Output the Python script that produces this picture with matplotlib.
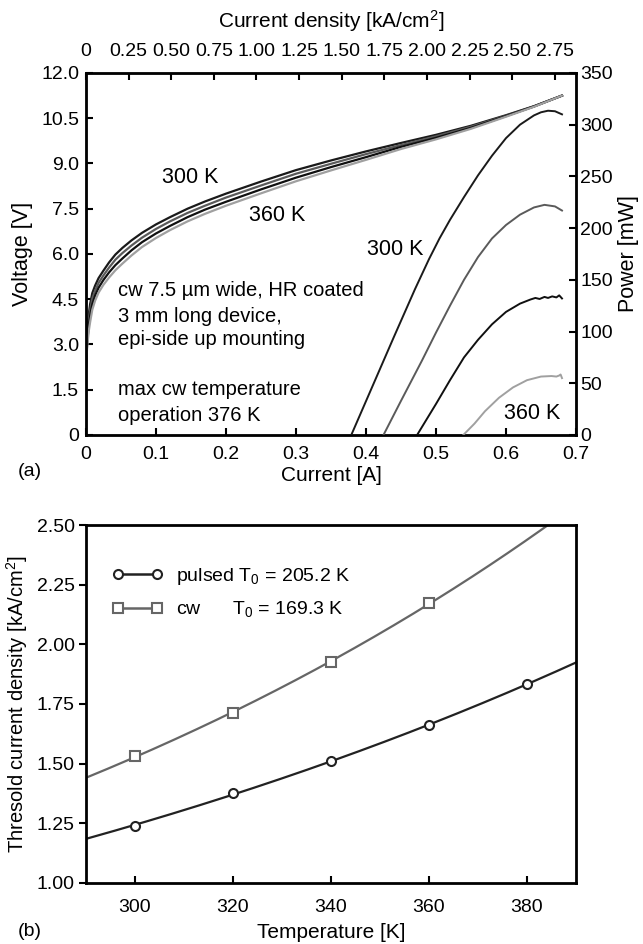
import numpy as np
import matplotlib
matplotlib.use("Agg")
import matplotlib.pyplot as plt

plt.rcParams['font.family'] = ['Liberation Sans', 'DejaVu Sans']
plt.rcParams['mathtext.fontset'] = 'custom'
plt.rcParams['mathtext.rm'] = 'Liberation Sans'
plt.rcParams['mathtext.it'] = 'Liberation Sans'

# ---- (a) voltage vs current, 300/320/340/360 K
current_v = [0, 0.001, 0.002, 0.004, 0.006, 0.009, 0.013, 0.018, 0.025, 0.033, 0.042,
             0.052, 0.065, 0.08, 0.1, 0.12, 0.145, 0.17, 0.2, 0.25, 0.3, 0.35, 0.4,
             0.45, 0.5, 0.55, 0.6, 0.64, 0.68]
v_300 = [2.3, 2.95, 3.4, 4.0, 4.35, 4.7, 4.95, 5.2, 5.45, 5.72, 5.98, 6.2, 6.45, 6.7,
         6.98, 7.22, 7.5, 7.74, 8.0, 8.4, 8.78, 9.1, 9.4, 9.68, 9.95, 10.25, 10.6, 10.9, 11.25]
v_320 = [2.27, 2.85, 3.27, 3.82, 4.15, 4.52, 4.78, 5.04, 5.29, 5.55, 5.81, 6.03, 6.28, 6.54,
         6.83, 7.08, 7.36, 7.6, 7.87, 8.27, 8.66, 8.99, 9.31, 9.61, 9.9, 10.22, 10.58, 10.89, 11.25]
v_340 = [2.23, 2.75, 3.13, 3.63, 3.95, 4.33, 4.62, 4.88, 5.14, 5.39, 5.63, 5.85, 6.12, 6.39,
         6.68, 6.93, 7.22, 7.47, 7.73, 8.14, 8.53, 8.88, 9.21, 9.55, 9.85, 10.18, 10.57, 10.89, 11.25]
v_360 = [2.2, 2.65, 3.0, 3.45, 3.75, 4.15, 4.45, 4.72, 4.98, 5.22, 5.46, 5.68, 5.95, 6.23,
         6.53, 6.79, 7.08, 7.33, 7.6, 8.01, 8.41, 8.77, 9.12, 9.48, 9.8, 10.15, 10.55, 10.88, 11.25]

# power vs current (mW)
i_p300 = [0.379, 0.44, 0.47, 0.49, 0.505, 0.52, 0.54, 0.56, 0.58, 0.6, 0.62, 0.64,
          0.65, 0.66, 0.67, 0.68]
p_300 = [0, 95, 141, 170, 190, 208, 230, 251, 270, 287, 300, 309, 312, 313.5, 313, 310]
i_p320 = [0.425, 0.45, 0.48, 0.5, 0.52, 0.54, 0.56, 0.58, 0.6, 0.62, 0.64, 0.655, 0.67, 0.68]
p_320 = [0, 33, 72, 99, 125, 150, 172, 190, 203, 213, 220, 222.5, 221, 217]
i_p340 = [0.473, 0.5, 0.52, 0.54, 0.56, 0.58, 0.6, 0.62, 0.635, 0.642, 0.648, 0.655,
          0.66, 0.666, 0.672, 0.676, 0.68]
p_340 = [0, 30, 53, 75, 92, 107, 119, 127, 131, 132.5, 131.5, 133.5, 132.5, 134, 133, 135, 132]
i_p360 = [0.539, 0.555, 0.57, 0.59, 0.61, 0.63, 0.65, 0.665, 0.672, 0.676, 0.678, 0.68]
p_360 = [0, 11, 23, 36, 46, 53, 56.5, 57, 56.5, 57.5, 58.5, 55]

# ---- (b) threshold current density vs temperature
temp_pulsed = [300, 320, 340, 360, 380]
j_pulsed = [1.239, 1.375, 1.511, 1.66, 1.832]
temp_cw = [300, 320, 340, 360]
j_cw = [1.532, 1.71, 1.925, 2.175]

fig = plt.figure(figsize=(6.43, 9.44), dpi=100)

# ---------------- panel (a)
ax = fig.add_axes([0.1337, 0.5392, 0.7621, 0.3835])
colors = ['#1a1a1a', '#5a5a5a', '#101010', '#a0a0a0']
for v, c in zip([v_300, v_320, v_340, v_360], colors):
    ax.plot(current_v, v, color=c, lw=1.6)
ax.set_xlim(0, 0.7)
ax.set_ylim(0, 12)
ax.set_xticks(np.arange(0, 0.71, 0.1))
ax.set_xticklabels(['0', '0.1', '0.2', '0.3', '0.4', '0.5', '0.6', '0.7'])
ax.set_yticks(np.arange(0, 12.1, 1.5))
ax.set_yticklabels(['0', '1.5', '3.0', '4.5', '6.0', '7.5', '9.0', '10.5', '12.0'])
ax.tick_params(direction='in', length=5, width=1.5, labelsize=14, pad=5)
ax.tick_params(axis='x', pad=8)
ax.set_xlabel('Current [A]', fontsize=15, labelpad=2)
ax.set_ylabel('Voltage [V]', fontsize=15.5, labelpad=6)
for s in ax.spines.values():
    s.set_linewidth(2)

axp = ax.twinx()
for i, p, c in zip([i_p300, i_p320, i_p340, i_p360], [p_300, p_320, p_340, p_360], colors):
    axp.plot(i, p, color=c, lw=1.4)
axp.set_ylim(0, 350)
axp.set_yticks(np.arange(0, 351, 50))
axp.tick_params(direction='in', length=5, width=1.5, labelsize=14, pad=3)
axp.set_ylabel('Power [mW]', fontsize=15.5, labelpad=4)

# top axis: current density
axt = ax.twiny()
j_scale = 0.25 / 0.0609  # kA/cm2 per A
axt.set_xlim(0, 0.7 * j_scale)
jt = np.arange(0, 2.76, 0.25)
axt.set_xticks(jt)
axt.set_xticklabels(['0'] + ['%.2f' % t for t in jt[1:]])
axt.tick_params(direction='in', length=5, width=1.5, labelsize=14, pad=9)
axt.set_xlabel('Current density [kA/cm$^2$]', fontsize=15, labelpad=11)

ax.text(0.149, 8.55, '300 K', fontsize=15.5, ha='center', va='center')
ax.text(0.273, 7.28, '360 K', fontsize=15.5, ha='center', va='center')
ax.text(0.442, 6.15, '300 K', fontsize=15.5, ha='center', va='center')
ax.text(0.638, 0.72, '360 K', fontsize=15.5, ha='center', va='center')
notes = [('cw 7.5 µm wide, HR coated', 4.78), ('3 mm long device,', 3.93),
         ('epi-side up mounting', 3.16), ('max cw temperature', 1.5),
         ('operation 376 K', 0.66)]
for txt, yv in notes:
    ax.text(0.046, yv, txt, fontsize=14.5, ha='left', va='center')

fig.text(0.028, 0.5, '(a)', fontsize=14, ha='left', va='center')

# ---------------- panel (b)
bx = fig.add_axes([0.1337, 0.0649, 0.7621, 0.3789])
tt = np.linspace(290, 390, 200)
cp = np.polyfit(temp_pulsed, np.log(j_pulsed), 1)
cc = np.polyfit(temp_cw, np.log(j_cw), 1)
bx.plot(tt, np.exp(np.polyval(cp, tt)), color='#222222', lw=1.6)
bx.plot(tt, np.exp(np.polyval(cc, tt)), color='#666666', lw=1.6)
bx.plot(temp_pulsed, j_pulsed, 'o', ms=6.5, mfc='white', mec='#222222', mew=1.5)
bx.plot(temp_cw, j_cw, 's', ms=6.5, mfc='white', mec='#666666', mew=1.5)
h1, = bx.plot([], [], '-o', color='#222222', ms=6.5, mfc='white', mew=1.5, lw=1.8)
h2, = bx.plot([], [], '-s', color='#666666', ms=6.5, mfc='white', mew=1.5, lw=1.8)
bx.legend([h1, h2], ['pulsed T$_0$ = 205.2 K', 'cw      T$_0$ = 169.3 K'],
          loc='upper left', bbox_to_anchor=(0.018, 0.935), frameon=False, numpoints=2,
          handlelength=2.6, handletextpad=0.7, labelspacing=0.65, fontsize=14)
bx.set_xlim(290, 390)
bx.set_ylim(1.0, 2.5)
bx.set_xticks([300, 320, 340, 360, 380])
bx.set_yticks(np.arange(1.0, 2.51, 0.25))
bx.set_yticklabels(['%.2f' % t for t in np.arange(1.0, 2.51, 0.25)])
bx.tick_params(axis='x', direction='in', length=5, width=1.5, labelsize=14, pad=12)
bx.tick_params(axis='y', direction='out', length=5, width=1.5, labelsize=14, pad=3)
bx.set_xlabel('Temperature [K]', fontsize=15, labelpad=5)
bx.set_ylabel('Thresold current density [kA/cm$^2$]', fontsize=14.5, labelpad=5)
for s in bx.spines.values():
    s.set_linewidth(2)

fig.text(0.028, 0.013, '(b)', fontsize=14, ha='left', va='center')

plt.savefig('out.png', dpi=100)
